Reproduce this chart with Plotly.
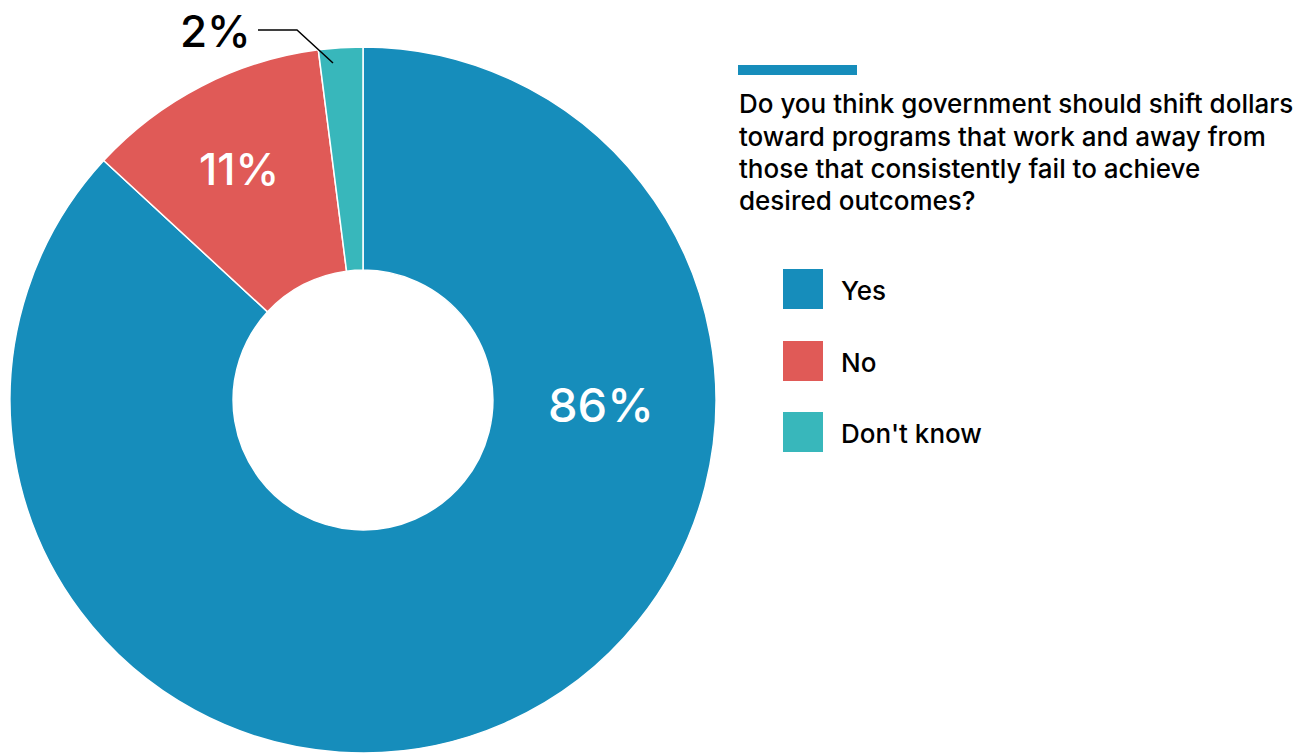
import plotly.graph_objects as go

# Survey responses
answers = ["Yes", "No", "Don't know"]
shares = [86, 11, 2]
colors = ["#168DBB", "#E05A57", "#38B7BB"]
question_lines = [
    "Do you think government should shift dollars",
    "toward programs that work and away from",
    "those that consistently fail to achieve",
    "desired outcomes?",
]

W, H = 1310, 753
FONT = "Inter"
WEIGHT = 500


def px(x):
    return x / W


def py(y):
    return 1 - y / H


fig = go.Figure(go.Pie(
    labels=answers,
    values=shares,
    marker=dict(colors=colors, line=dict(color="white", width=1.5)),
    hole=0.368,
    sort=False,
    direction="clockwise",
    rotation=0,
    textinfo="none",
    hoverinfo="label+percent",
    showlegend=False,
    domain=dict(x=[px(10), px(716)], y=[py(753), py(47)]),
))

annotations = []
shapes = []


def label(x, y, text, size, color, **kw):
    opts = dict(x=px(x), y=py(y), xref="paper", yref="paper",
                xanchor="center", yanchor="middle", text=text, showarrow=False,
                font=dict(family=FONT, size=size, color=color, weight=WEIGHT))
    opts.update(kw)
    annotations.append(opts)


# Slice value labels
label(601, 404, f"{shares[0]}%", 47, "white")
label(239, 169, f"{shares[1]}%", 44, "white")
label(215, 31, f"{shares[2]}%", 44, "black")

# Leader line for the small slice
shapes.append(dict(type="path", xref="paper", yref="paper",
                   path=f"M {px(258)} {py(30)} L {px(297)} {py(30)} L {px(333)} {py(63)}",
                   line=dict(color="black", width=1.5)))

# Accent bar above the question
shapes.append(dict(type="rect", xref="paper", yref="paper",
                   x0=px(738), x1=px(857), y0=py(75), y1=py(65),
                   fillcolor="#168DBB", line=dict(width=0)))

for i, line in enumerate(question_lines):
    label(737, 104 + 32.3 * i, line, 26, "black", xanchor="left")

# Legend
legend_top = [269, 341, 412]
for name, col, top in zip(answers, colors, legend_top):
    shapes.append(dict(type="rect", xref="paper", yref="paper",
                       x0=px(783), x1=px(823), y0=py(top + 40), y1=py(top),
                       fillcolor=col, line=dict(width=0)))
    label(839, top + 21, name, 26, "black", xanchor="left")

fig.update_layout(
    width=W, height=H,
    margin=dict(l=0, r=0, t=0, b=0),
    paper_bgcolor="white", plot_bgcolor="white",
    annotations=annotations, shapes=shapes,
)

fig.write_html("out.html")
